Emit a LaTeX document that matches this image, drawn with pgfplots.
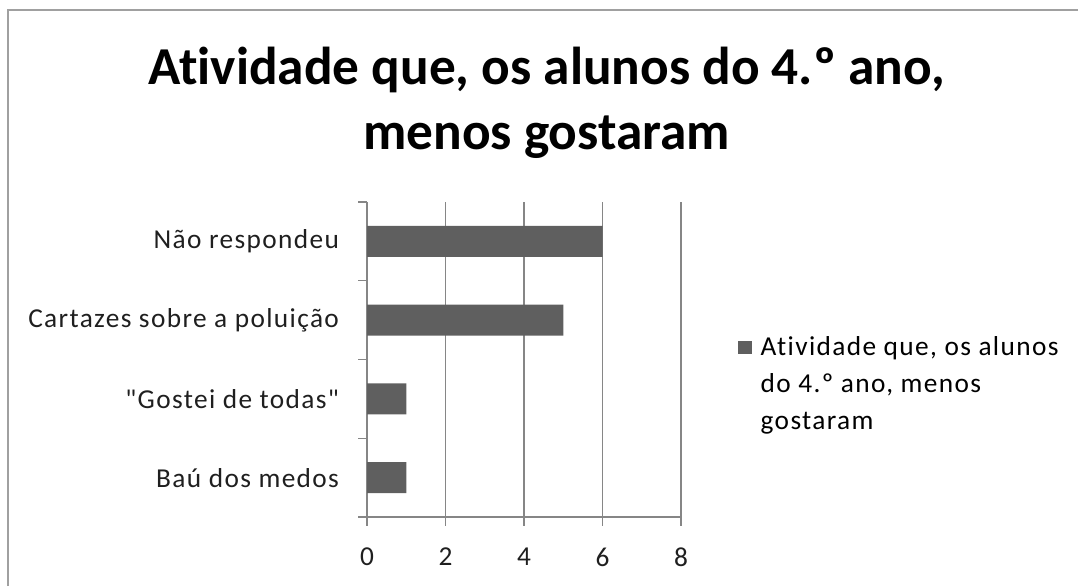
\documentclass[border=0pt]{standalone}
\usepackage{pgfplots}
\pgfplotsset{compat=1.18}
\usepackage{fontspec}
\setmainfont{Carlito}[Ligatures={NoCommon}]
\newfontfamily\lbl[LetterSpace=5,Ligatures={NoCommon}]{Carlito}
\definecolor{barcol}{RGB}{95,95,95}
\definecolor{axcol}{RGB}{134,134,134}
\definecolor{framecol}{RGB}{160,160,160}
\begin{document}
\begin{tikzpicture}
\useasboundingbox (0,0) rectangle (808.5pt,-439.5pt);
\draw[framecol,line width=1.2pt] (6pt,-439.5pt) -- (6pt,-7.5pt) -- (808.5pt,-7.5pt);
\node[font=\fontsize{40}{48}\selectfont\bfseries,anchor=base] at (410pt,-63pt) {Atividade que, os alunos do 4.º ano,};
\node[font=\fontsize{40}{48}\selectfont\bfseries,anchor=base] at (410pt,-112pt) {menos gostaram};
\begin{axis}[
  at={(275.25pt,-387.75pt)}, anchor=south west,
  scale only axis, width=235.5pt, height=236.25pt,
  xmin=0, xmax=8, ymin=-0.5, ymax=3.5,
  xbar, bar width=23.25pt,
  axis x line=bottom, axis y line=left,
  axis line style={-, axcol, line width=0.9pt},
  xtick={0,2,4,6,8},
  xmajorgrids, grid style={axcol, line width=0.9pt},
  ytick={0,1,2,3},
  yticklabels={Baú dos medos,\symbol{34}Gostei de todas\symbol{34},Cartazes sobre a poluição,Não respondeu},
  major y tick style={draw=none},
  minor ytick={-0.5,0.5,1.5,2.5,3.5},
  minor tick style={axcol, line width=0.9pt},
  minor tick length=6.5pt,
  major tick length=6.5pt,
  major x tick style={axcol, line width=0.9pt},
  tick align=outside,
  /pgf/number format/assume math mode=true,
  tick label style={font=\lbl\fontsize{20.5}{24}\selectfont, text=black!88},
  xticklabel style={yshift=-13pt},
  yticklabel style={xshift=-11pt},
  legend style={draw=none, at={(1.168,0.59)}, anchor=north west,
    font=\lbl\fontsize{20.5}{27.75}\selectfont, cells={align=left}},
  legend image code/.code={\fill[barcol] (0pt,22.75pt) rectangle (10.5pt,32.75pt); \path (15pt,27pt);},
]
\addplot[fill=barcol, draw=none] coordinates {(1,0) (1,1) (5,2) (6,3)};
\addlegendentry{Atividade que, os alunos\\do 4.º ano, menos\\gostaram}
\end{axis}
\end{tikzpicture}
\end{document}
